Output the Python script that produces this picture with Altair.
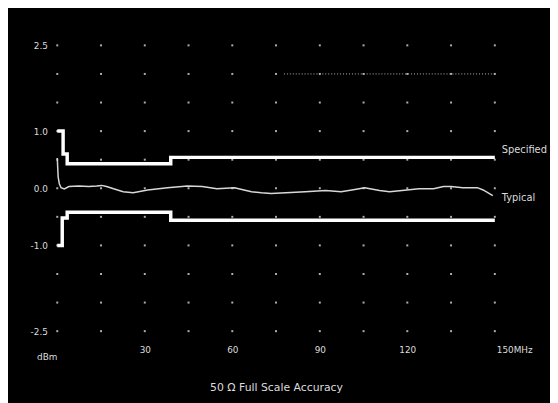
import altair as alt
import pandas as pd

# ---- data ----
typ_x = [0.0, 0.3, 0.7, 1.3, 2.4, 4.0, 7.4, 10.8, 13.5, 15.2, 16.9, 19.3, 22.6, 26.0, 31.0,
         37.8, 44.6, 49.7, 54.7, 60.8, 64.0, 66.6, 70.0, 73.3, 78.4, 85.0, 92.0, 97.3, 101.0,
         105.4, 110.5, 113.9, 118.2, 124.0, 129.0, 132.4, 135.0, 139.0, 144.0, 146.0, 149.3]
typ_y = [0.53, 0.20, 0.08, 0.01, -0.01, 0.03, 0.04, 0.03, 0.04, 0.05, 0.03, -0.01, -0.06, -0.08, -0.03,
         0.01, 0.04, 0.03, -0.01, 0.01, -0.03, -0.06, -0.08, -0.09, -0.08, -0.06, -0.04, -0.06, -0.03,
         0.01, -0.04, -0.06, -0.04, -0.01, -0.01, 0.03, 0.03, 0.01, 0.01, -0.03, -0.13]

up_x = [0.0, 2.0, 3.4, 38.9, 150.0]
up_y = [1.0, 0.60, 0.43, 0.54, 0.54]
lo_x = [0.0, 1.7, 3.4, 38.9, 150.0]
lo_y = [-1.0, -0.52, -0.42, -0.56, -0.56]

ytick_vals = [2.5, 1.0, 0.0, -1.0, -2.5]
xtick_vals = [30, 60, 90, 120]
grid_x = [0, 15, 30, 45, 60, 75, 90, 105, 120, 135, 150]
grid_y = [2.5, 2.0, 1.5, 1.0, 0.5, 0.0, -0.5, -1.0, -1.5, -2.0, -2.5]
marker_line = {"x": [77.7], "x2": [150.0], "y": [2.0]}

typ = pd.DataFrame({"f": typ_x, "v": typ_y})
up = pd.DataFrame({"f": up_x, "v": up_y})
lo = pd.DataFrame({"f": lo_x, "v": lo_y})
grid = pd.DataFrame([(gx, gy) for gx in grid_x for gy in grid_y], columns=["f", "v"])
mk = pd.DataFrame(marker_line)
spec_lbl = pd.DataFrame({"f": [150.0], "v": [up_y[-1]], "t": ["Specified"]})
typ_lbl = pd.DataFrame({"f": [150.0], "v": [typ_y[-1]], "t": ["Typical"]})
mhz = pd.DataFrame({"f": [150.0], "v": [-2.5], "t": ["150MHz"]})

FONT = "DejaVu Sans"
TXT = "#dcdcdc"

xs = alt.Scale(domain=[0, 150], nice=False, zero=False)
ys = alt.Scale(domain=[-2.5, 2.5], nice=False, zero=False)

lbl_expr = ("datum.value == 0 ? '0.0' : datum.value == 1 ? '1.0' : datum.value == -1 ? '-1.0' : "
            "datum.value == -2.5 ? '-2.5' : '2.5'")

xax = alt.Axis(values=xtick_vals, title="50 \u03a9  Full Scale Accuracy", domain=False, ticks=False,
               tickSize=0, grid=False, labelColor=TXT, labelFont=FONT, labelFontSize=9,
               labelPadding=15, titleColor=TXT, titleFont=FONT, titleFontSize=11,
               titleFontWeight="normal", titleY=57, titleBaseline="middle")
yax = alt.Axis(values=ytick_vals, labelExpr=lbl_expr, title="dBm",
               domain=False, ticks=False, tickSize=0, grid=False, labelColor=TXT, labelFont=FONT,
               labelFontSize=9, labelPadding=10, titleColor=TXT, titleFont=FONT, titleFontSize=9,
               titleFontWeight="normal", titleAngle=0, titleAlign="left", titleBaseline="middle",
               titleX=-21, titleY=316)

dots = alt.Chart(grid).mark_square(size=4, color="#cfcfcf", opacity=0.85).encode(
    x=alt.X("f:Q", scale=xs, axis=xax), y=alt.Y("v:Q", scale=ys, axis=yax))

marker = alt.Chart(mk).mark_rule(color="#bbbbbb", strokeDash=[1, 2], strokeWidth=1).encode(
    x="x:Q", x2="x2:Q", y="y:Q")

upper = alt.Chart(up).mark_line(interpolate="step-after", color="white", strokeWidth=3.5).encode(
    x="f:Q", y="v:Q")
lower = alt.Chart(lo).mark_line(interpolate="step-after", color="white", strokeWidth=3.5).encode(
    x="f:Q", y="v:Q")
typical = alt.Chart(typ).mark_line(color="#d8d8d8", strokeWidth=1.5).encode(x="f:Q", y="v:Q")

spec_text = alt.Chart(spec_lbl).mark_text(align="left", dx=7, dy=-7, font=FONT, fontSize=10,
                                          color=TXT).encode(x="f:Q", y="v:Q", text="t:N")
typ_text = alt.Chart(typ_lbl).mark_text(align="left", dx=7, dy=2, font=FONT, fontSize=10,
                                        color=TXT).encode(x="f:Q", y="v:Q", text="t:N")
mhz_text = alt.Chart(mhz).mark_text(align="left", dx=2, dy=19, font=FONT, fontSize=9, color=TXT,
                                    baseline="middle").encode(x="f:Q", y="v:Q", text="t:N")

chart = alt.layer(dots, marker, upper, lower, typical, spec_text, typ_text, mhz_text).properties(
    width=444, height=290,
    padding={"left": 50, "top": 35, "right": 56, "bottom": 70},
    autosize=alt.AutoSizeParams(type="none"),
    background="black",
).configure_view(stroke=None, fill="black")

chart.save("out.html", embed_options={"renderer": "svg", "actions": False})
